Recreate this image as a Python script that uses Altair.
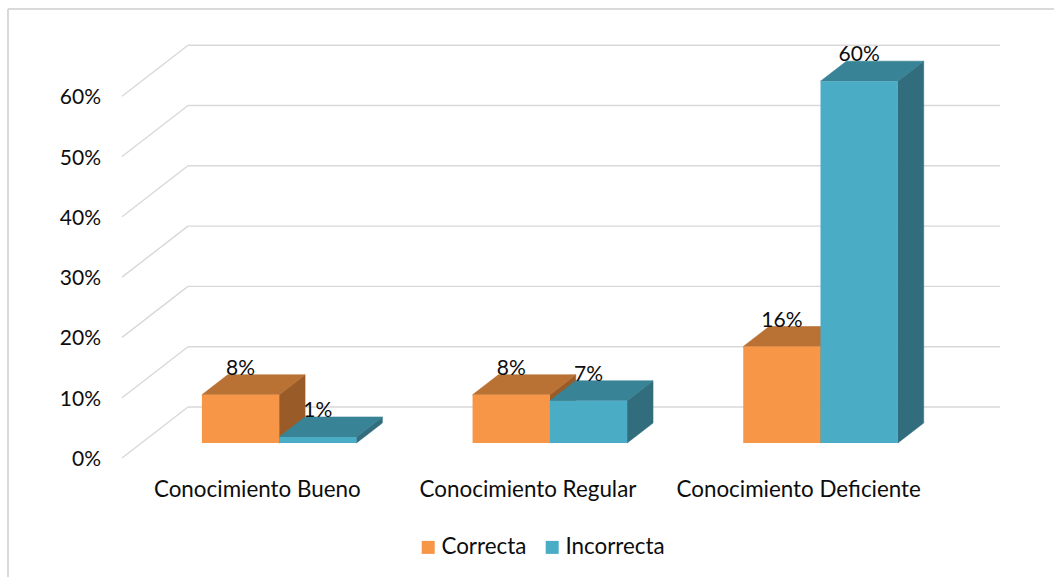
import altair as alt
import pandas as pd

# ---------------- data ----------------
categories = ["Conocimiento Bueno", "Conocimiento Regular", "Conocimiento Deficiente"]
series = ["Correcta", "Incorrecta"]
correcta = [8, 8, 16]
incorrecta = [1, 7, 60]
tick_values = [0, 10, 20, 30, 40, 50, 60]
tick_labels = ["0%", "10%", "20%", "30%", "40%", "50%", "60%"]

# ---------------- layout / style ----------------
W, H = 1054, 577
PAD_L, PAD_T = 8, 9
FRONT_X0 = 122.0      # canvas x of the front-left floor corner
CAT_PX = 270.67       # pixels per category
BASE_Y = 458.0        # canvas y of 0% on the front plane
PX_PER_PCT = 6.03
DEPTH_DX, DEPTH_DY = 66.0, 51.0   # oblique offset of the back wall
Z1, Z2 = 0.294, 0.686             # bar front / back depth
BAR_START, BAR_W = 0.2235, 0.2855
TICK_LABEL_X = 101.0
CAT_LABEL_Y = 490.0

FONT = "Lato"
FS = 21
FS_CAT = 22.4
TXT = "#0d0d0d"
GRID = "#d9d9d9"
FRONT_COL = {"Correcta": "#F79646", "Incorrecta": "#4BACC6"}
TOP_COL = {"Correcta": "#B97134", "Incorrecta": "#388396"}
SIDE_COL = {"Correcta": "#995C28", "Incorrecta": "#316D7D"}

plot_w, plot_h = W - PAD_L, H - PAD_T
u_min = (PAD_L - FRONT_X0) / CAT_PX
u_max = (W - FRONT_X0) / CAT_PX
v_max = (BASE_Y - PAD_T) / PX_PER_PCT
v_min = (BASE_Y - H) / PX_PER_PCT
DXU = DEPTH_DX / CAT_PX
DYV = DEPTH_DY / PX_PER_PCT

xs = alt.Scale(domain=[u_min, u_max], nice=False, zero=False)
ys = alt.Scale(domain=[v_min, v_max], nice=False, zero=False)


def X(f):
    return alt.X(f"{f}:Q", scale=xs, axis=None)


def Y(f):
    return alt.Y(f"{f}:Q", scale=ys, axis=None, stack=None)


# ---------------- build geometry tables from the data ----------------
values = {"Correcta": correcta, "Incorrecta": incorrecta}
fronts, tops, sides, labels = [], [], [], []
for i, cat in enumerate(categories):
    for j, s in enumerate(series):
        val = values[s][i]
        u0 = i + BAR_START + j * BAR_W
        u1 = u0 + BAR_W
        fid = f"{s}-{i}"
        fronts.append({"series": s, "x": u0 + Z1 * DXU, "x2": u1 + Z1 * DXU,
                       "y": Z1 * DYV, "y2": val + Z1 * DYV})
        lo, hi = val + Z1 * DYV, val + Z2 * DYV
        tops += [
            {"series": s, "fid": fid, "x": u0 + Z1 * DXU, "y": lo, "y2": lo},
            {"series": s, "fid": fid, "x": u0 + Z2 * DXU, "y": lo, "y2": hi},
            {"series": s, "fid": fid, "x": u1 + Z1 * DXU, "y": lo, "y2": hi},
            {"series": s, "fid": fid, "x": u1 + Z2 * DXU, "y": hi, "y2": hi},
        ]
        sides += [
            {"series": s, "fid": fid, "x": u1 + Z1 * DXU, "y": Z1 * DYV, "y2": lo},
            {"series": s, "fid": fid, "x": u1 + Z2 * DXU, "y": Z2 * DYV, "y2": hi},
        ]
        labels.append({"x": (u0 + u1) / 2 + Z1 * DXU, "y": hi, "text": f"{val}%"})

fronts = pd.DataFrame(fronts)
tops = pd.DataFrame(tops)
sides = pd.DataFrame(sides)
labels = pd.DataFrame(labels)

grid = pd.DataFrame({"v": tick_values, "label": tick_labels})
grid["xb"] = DXU
grid["xb2"] = len(categories) + DXU
grid["yb"] = grid["v"] + DYV
grid["xf"] = 0.0
grid["xt"] = (TICK_LABEL_X - FRONT_X0) / CAT_PX

cats = pd.DataFrame({"cat": categories,
                     "x": [i + 0.5 for i in range(len(categories))],
                     "y": [(BASE_Y - CAT_LABEL_Y) / PX_PER_PCT] * len(categories)})

# ---------------- layers ----------------
border_left = alt.Chart(grid).mark_rule(color=GRID, strokeWidth=1.2).encode(
    x=alt.value(0), y=alt.value(0), y2=alt.value(plot_h))
border_top = alt.Chart(grid).mark_rule(color=GRID, strokeWidth=1.2).encode(
    x=alt.value(0), x2=alt.value(plot_w), y=alt.value(0))

back_lines = alt.Chart(grid).mark_rule(color=GRID, strokeWidth=1.4).encode(
    x=X("xb"), x2="xb2:Q", y=Y("yb"))
diag_lines = alt.Chart(grid).mark_rule(color=GRID, strokeWidth=1.4).encode(
    x=X("xf"), x2="xb:Q", y=Y("v"), y2="yb:Q")
tick_text = alt.Chart(grid).mark_text(
    align="right", baseline="middle", font=FONT, fontSize=FS, color=TXT, dy=2
).encode(x=X("xt"), y=Y("v"), text="label:N")


def face_layer(df, s, col):
    return alt.Chart(df[df["series"] == s]).mark_area(
        color=col, stroke=col, strokeWidth=0.6, interpolate="linear", opacity=1,
        orient="vertical"
    ).encode(x=X("x"), y=Y("y"), y2="y2:Q", detail="fid:N")


side_c = face_layer(sides, "Correcta", SIDE_COL["Correcta"])
top_c = face_layer(tops, "Correcta", TOP_COL["Correcta"])
side_i = face_layer(sides, "Incorrecta", SIDE_COL["Incorrecta"])
top_i = face_layer(tops, "Incorrecta", TOP_COL["Incorrecta"])

front = alt.Chart(fronts).mark_rect(opacity=1).encode(
    x=X("x"), x2="x2:Q", y=Y("y"), y2="y2:Q",
    color=alt.Color("series:N",
                    scale=alt.Scale(domain=series,
                                    range=[FRONT_COL[s] for s in series]),
                    legend=alt.Legend(title=None, orient="none", direction="horizontal",
                                      legendX=409, legendY=527,
                                      symbolType="square", symbolSize=169,
                                      symbolStrokeWidth=0, symbolOpacity=1,
                                      labelFont=FONT, labelFontSize=FS_CAT, labelColor=TXT,
                                      labelOffset=2, columnPadding=14, padding=0)),
)

data_text = alt.Chart(labels).mark_text(
    align="center", baseline="alphabetic", font=FONT, fontSize=FS, color=TXT
).encode(x=X("x"), y=Y("y"), text="text:N")

cat_text = alt.Chart(cats).mark_text(
    align="center", baseline="middle", font=FONT, fontSize=FS_CAT, color=TXT
).encode(x=X("x"), y=Y("y"), text="cat:N")

chart = alt.layer(
    border_left, border_top, back_lines, diag_lines, tick_text,
    side_c, top_c, side_i, top_i, front, data_text, cat_text
).properties(
    width=plot_w, height=plot_h, autosize="none",
    padding={"left": PAD_L, "top": PAD_T, "right": 0, "bottom": 0},
    background="white",
).configure_view(stroke=None)

chart.save("out.html", embed_options={"renderer": "svg", "actions": False})
